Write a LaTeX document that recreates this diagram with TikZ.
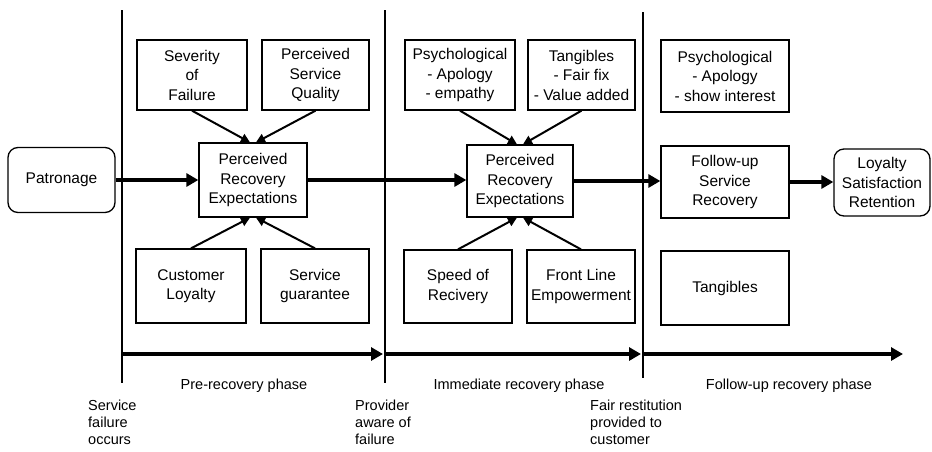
\documentclass[tikz,border=0pt]{standalone}
\usepackage{fontspec}
\setmainfont{Liberation Sans}
\usetikzlibrary{arrows.meta}
\begin{document}
\begin{tikzpicture}[x=1pt,y=-1pt,
  box/.style={draw, line width=1.3pt, inner sep=0pt, align=center,
    font=\fontsize{15.5}{19.5}\selectfont},
  rbox/.style={box, rounded corners=10pt},
  thick arrow/.style={line width=4pt, -{Triangle[length=12pt,width=13pt]}},
  conn/.style={line width=2pt, -{Triangle[length=9pt,width=9pt]}},
  divider/.style={line width=1.3pt},
  phase/.style={inner sep=0pt, font=\fontsize{14.5}{17}\selectfont},
  event/.style={inner sep=0pt, align=left, anchor=north west, font=\fontsize{14.5}{17}\selectfont}
]
\useasboundingbox (0,0) rectangle (932,451);

% top row
\node[box, minimum width=110pt, minimum height=70pt] (sev) at (192,75) {Severity\\of\\Failure};
\node[box, minimum width=107pt, minimum height=70pt] (psq) at (315.5,75) {Perceived\\Service\\Quality};
\node[box, minimum width=110pt, minimum height=70pt] (psy1) at (460,75) {Psychological\\- Apology\\- empathy};
\node[box, minimum width=107pt, minimum height=70pt] (tan1) at (581.5,75) {Tangibles\\- Fair fix\\- Value added};
\node[box, minimum width=128pt, minimum height=72pt] (psy2) at (725,76) {Psychological\\- Apology\\- show interest};

% middle row
\node[rbox, minimum width=107pt, minimum height=65pt] (pat) at (61.5,180) {Patronage};
\node[box, minimum width=108pt, minimum height=74pt] (pre1) at (253,180) {Perceived\\Recovery\\Expectations};
\node[box, minimum width=106pt, minimum height=72pt] (pre2) at (520,181) {Perceived\\Recovery\\Expectations};
\node[box, minimum width=128pt, minimum height=72pt] (fol) at (725,182) {Follow-up\\Service\\Recovery};
\node[rbox, minimum width=96pt, minimum height=67pt] (loy) at (882,182.5) {Loyalty\\Satisfaction\\Retention};

% bottom row
\node[box, minimum width=110pt, minimum height=74pt] (cl) at (191,286) {Customer\\Loyalty};
\node[box, minimum width=108pt, minimum height=74pt] (sg) at (315,286) {Service\\guarantee};
\node[box, minimum width=108pt, minimum height=73pt] (sp) at (458,286.5) {Speed of\\Recivery};
\node[box, minimum width=108pt, minimum height=73pt] (fl) at (581,286.5) {Front Line\\Empowerment};
\node[box, minimum width=128pt, minimum height=74pt] (tan2) at (725,288) {Tangibles};

% dividers
\coordinate (v1t) at (122,10);  \coordinate (v1b) at (122,383);
\coordinate (v2t) at (385,10);  \coordinate (v2b) at (385,383);
\coordinate (v3t) at (643,12);  \coordinate (v3b) at (643,378);
\draw[divider] (v1t) -- (v1b);
\draw[divider] (v2t) -- (v2b);
\draw[divider] (v3t) -- (v3b);

% timeline
\coordinate (t1s) at (122,354); \coordinate (t1e) at (383,354);
\coordinate (t2s) at (385,354); \coordinate (t2e) at (641,354);
\coordinate (t3s) at (643,354); \coordinate (t3e) at (903,354);
\draw[thick arrow] (t1s) -- (t1e);
\draw[thick arrow] (t2s) -- (t2e);
\draw[thick arrow] (t3s) -- (t3e);

% main flow
\draw[thick arrow] (pat.east) -- (pat.east -| pre1.west);
\draw[thick arrow] (pre1.east) -- (pre1.east -| pre2.west);
\draw[thick arrow] (pre2.east) -- (pre2.east -| fol.west);
\draw[thick arrow] (fol.east) -- (fol.east -| loy.west);

% influences
\draw[conn] (sev.south) -- ([xshift=-3pt]pre1.north);
\draw[conn] (psq.south) -- ([xshift=3pt]pre1.north);
\draw[conn] (cl.north) -- ([xshift=-3pt]pre1.south);
\draw[conn] (sg.north) -- ([xshift=3pt]pre1.south);
\draw[conn] (psy1.south) -- ([xshift=-3pt]pre2.north);
\draw[conn] (tan1.south) -- ([xshift=3pt]pre2.north);
\draw[conn] (sp.north) -- ([xshift=-3pt]pre2.south);
\draw[conn] (fl.north) -- ([xshift=3pt]pre2.south);

% phase labels
\node[phase] (ph1) at (244,386) {Pre-recovery phase};
\node[phase] (ph2) at (519,386) {Immediate recovery phase};
\node[phase] (ph3) at (789,386) {Follow-up recovery phase};

% event labels
\node[event] (ev1) at (88,400) {Service\\failure\\occurs};
\node[event] (ev2) at (355,400) {Provider\\aware of\\failure};
\node[event] (ev3) at (590,400) {Fair restitution\\provided to\\customer};
\end{tikzpicture}
\end{document}
